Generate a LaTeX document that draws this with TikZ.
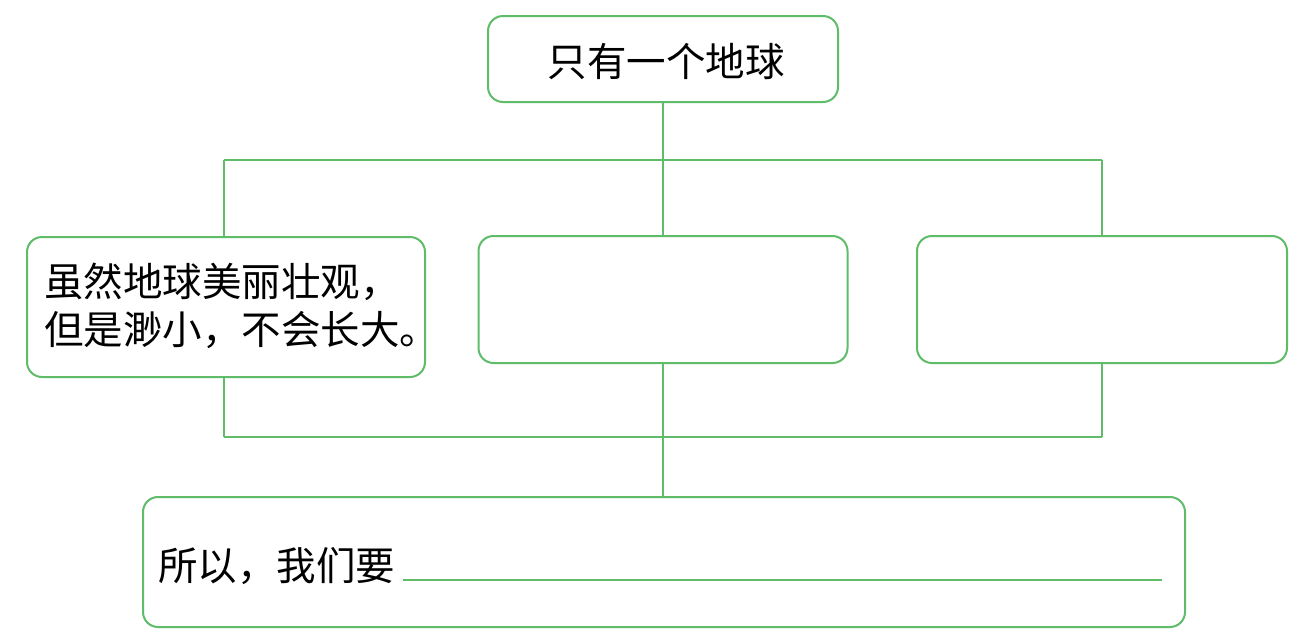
\documentclass[tikz,border=0pt]{standalone}
\usepackage{fontspec}
\newfontfamily\cjk{Noto Sans CJK SC}
\definecolor{lg}{RGB}{95,188,105}
\begin{document}
\begin{tikzpicture}[x=1pt,y=-1pt,
  box/.style={draw=lg,line width=2pt,rounded corners=15pt,inner sep=0pt},
  conn/.style={draw=lg,line width=1.6pt},
  txt/.style={font=\cjk\fontsize{39.5}{48}\selectfont,text=black,inner sep=0pt}]
\useasboundingbox (0,0) rectangle (1315,641);
\fill[white] (0,0) rectangle (1315,641);
\node[box,minimum width=350pt,minimum height=86pt] (top) at (663,59) {};
\node[txt] (title) at (666,62) {只有一个地球};
\node[box,minimum width=398pt,minimum height=140pt] (left) at (226,307) {};
\node[box,minimum width=369pt,minimum height=127pt] (mid) at (663,299.5) {};
\node[box,minimum width=370pt,minimum height=127pt] (right) at (1102,299.5) {};
\node[box,minimum width=1042pt,minimum height=130pt] (bot) at (664,562) {};
\node[txt,align=left,anchor=west] (ltext) at (44,306) {虽然地球美丽壮观，\\但是渺小，不会长大。};
\node[txt,anchor=west] (btext) at (158,566) {所以，我们要};
\coordinate (ulend) at (1162,580);
\draw[conn,line width=1.2pt] (btext.east |- ulend) ++(8,0) coordinate (ulstart) -- (ulend);
\coordinate (jt) at (663,160);
\coordinate (jtl) at (224,160);
\coordinate (jtr) at (1102,160);
\coordinate (jb) at (663,437);
\coordinate (jbl) at (224,437);
\coordinate (jbr) at (1102,437);
\draw[conn] (top.south) -- (jt);
\draw[conn] (jtl) -- (jtr);
\draw[conn] (jtl) -- (jtl |- left.north);
\draw[conn] (jt) -- (mid.north);
\draw[conn] (jtr) -- (right.north);
\draw[conn] (jbl |- left.south) -- (jbl);
\draw[conn] (mid.south) -- (jb);
\draw[conn] (right.south) -- (jbr);
\draw[conn] (jbl) -- (jbr);
\draw[conn] (jb) -- (jb |- bot.north);
\end{tikzpicture}
\end{document}
